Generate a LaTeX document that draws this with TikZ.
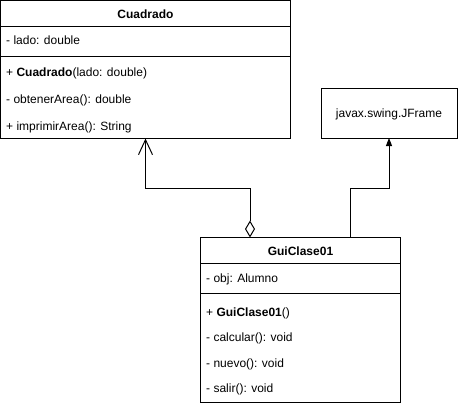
\documentclass[tikz,border=0pt]{standalone}
\usepackage{fontspec}
\setmainfont{Liberation Sans}
\usetikzlibrary{arrows.meta}

\begin{document}
\begin{tikzpicture}[x=1pt, y=-1pt,
	box/.style={draw, line width=1pt, inner sep=0pt, outer sep=0pt},
	row/.style={anchor=west, inner sep=0pt, text height=8.6pt, text depth=0pt},
	title/.style={inner sep=0pt, text height=8.6pt, text depth=0pt, font=\bfseries},
	link/.style={line width=1pt}]
	\fontsize{12}{14}\selectfont
	\useasboundingbox (0,0) rectangle (461,405);
	
	% Class Cuadrado
	\node[box, minimum width=290pt, minimum height=138pt, anchor=north west] (cuad) at (0.5,0.5) {};
	\draw[link] (cuad.west |- 0,26) -- (cuad.east |- 0,26);
	\draw[link] (cuad.west |- 0,56) -- (cuad.east |- 0,56);
	\node[title] (cuadName) at (cuad.north |- 0,14) {Cuadrado};
	\node[row] (cuadLado) at (6,40) {- lado: double};
	\node[row] (cuadNew) at (6,72) {+ \textbf{Cuadrado}(lado: double)};
	\node[row] (cuadArea) at (6,99) {- obtenerArea(): double};
	\node[row] (cuadPrint) at (6,126) {+ imprimirArea(): String};
	
	% Class javax.swing.JFrame
	\node[box, minimum width=136pt, minimum height=50pt, text height=8.6pt, text depth=0pt] (frame) at (389,113) {javax.swing.JFrame};
	
	% Class GuiClase01
	\node[box, minimum width=200pt, minimum height=165pt, anchor=north west] (gui) at (200.5,237.5) {};
	\draw[link] (gui.west |- 0,263) -- (gui.east |- 0,263);
	\draw[link] (gui.west |- 0,293) -- (gui.east |- 0,293);
	\node[title] (guiName) at (gui.north |- 0,251) {GuiClase01};
	\node[row] (guiObj) at (206,278) {- obj: Alumno};
	\node[row] (guiNew) at (206,312) {+ \textbf{GuiClase01}()};
	\node[row] (guiCalc) at (206,337) {- calcular(): void};
	\node[row] (guiNuevo) at (206,363) {- nuevo(): void};
	\node[row] (guiSalir) at (206,388) {- salir(): void};
	
	% Connectors
	\coordinate (aggBend) at (250,188);
	\coordinate (extBend) at (350,188);
	\draw[link, {Diamond[open, length=17pt, width=10pt]}-{Straight Barb[length=15pt, width=14pt]}] (gui.north -| aggBend) -- (aggBend) -| (cuad.south);
	\draw[link, -{Triangle[length=8pt, width=6pt]}] (gui.north -| extBend) -- (extBend) -| (frame.south);
\end{tikzpicture}
\end{document}
